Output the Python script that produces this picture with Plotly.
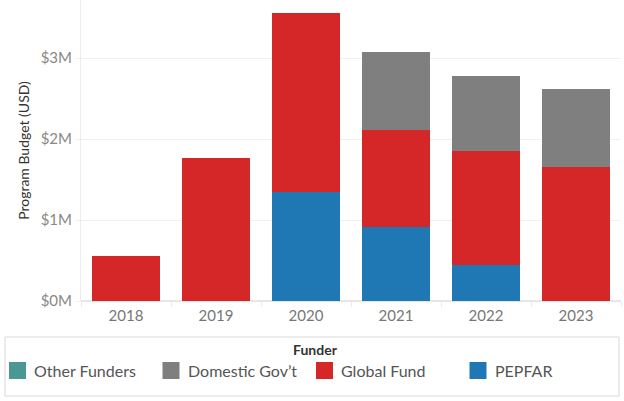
import plotly.graph_objects as go

years = ["2018", "2019", "2020", "2021", "2022", "2023"]
pepfar = [0, 0, 1.35e6, 0.91e6, 0.44e6, 0]
global_fund = [0.55e6, 1.765e6, 2.205e6, 1.2e6, 1.41e6, 1.655e6]
domestic = [0, 0, 0, 0.965e6, 0.93e6, 0.96e6]
other = [0, 0, 0, 0, 0, 0]

tick_vals = [0, 1e6, 2e6, 3e6]
tick_text = ["$0M", "$1M", "$2M", "$3M"]

legend_title = "Funder"

FONT = "Lato"

series = [
    ("PEPFAR", pepfar, "#1f77b4"),
    ("Global Fund", global_fund, "#d62728"),
    ("Domestic Gov\u2019t", domestic, "#7f7f7f"),
    ("Other Funders", other, "#499894"),
]

fig = go.Figure()
for name, vals, col in series:
    fig.add_trace(go.Bar(x=years, y=vals, name=name, showlegend=False,
                         marker=dict(color=col, line=dict(width=0))))

W, H = 624, 401
L, R, T, B = 81, 3, 0, 100
pw, ph = W - L - R, H - T - B

def px_x(x):
    return (x - L) / pw

def px_y(y):
    return (H - B - y) / ph

# legend box + entries (legend order is reversed stacking order)
shapes = [dict(type="rect", xref="paper", yref="paper",
               x0=px_x(5), x1=px_x(619), y0=px_y(396), y1=px_y(337),
               line=dict(color="#d9d9d9", width=1), layer="below")]
annotations = [dict(text=legend_title, xref="paper", yref="paper",
                    x=px_x(315), y=px_y(349), xanchor="center", yanchor="middle",
                    showarrow=False,
                    font=dict(family=FONT, size=14, color="#333333", weight=700))]
for i, (name, _, col) in enumerate(reversed(series)):
    sx = 9 + 153.5 * i
    shapes.append(dict(type="rect", xref="paper", yref="paper",
                       x0=px_x(sx), x1=px_x(sx + 17),
                       y0=px_y(379), y1=px_y(362),
                       fillcolor=col, line=dict(width=0)))
    annotations.append(dict(text=name, xref="paper", yref="paper",
                            x=px_x(sx + 23), y=px_y(370.5),
                            xanchor="left", yanchor="middle", showarrow=False,
                            font=dict(family=FONT, size=16, color="#555555")))

fig.update_layout(
    width=W, height=H,
    margin=dict(l=L, r=R, t=T, b=B, autoexpand=False),
    barmode="stack", bargap=0.245,
    plot_bgcolor="white", paper_bgcolor="white",
    font=dict(family=FONT, color="#555555"),
    showlegend=False,
    xaxis=dict(
        type="category",
        tickfont=dict(size=15, color="#777777"),
        ticks="outside", tickson="boundaries", ticklen=5,
        tickcolor="#ececec", showline=False, showgrid=False,
        ticklabelstandoff=4,
    ),
    yaxis=dict(
        range=[0, 3.716e6], tickvals=tick_vals, ticktext=tick_text,
        tickfont=dict(size=15, color="#888888"),
        gridcolor="#f0f0f0", zeroline=True, zerolinecolor="#e6e6e6",
        showline=True, linecolor="#ececec",
        ticks="outside", ticklen=5, tickcolor="#f0f0f0",
        title=dict(text="Program Budget (USD)",
                   font=dict(size=14, color="#333333"), standoff=7),
    ),
    shapes=shapes,
    annotations=annotations,
)

fig.write_html("out.html", config={"displayModeBar": False},
               post_script="document.body.style.margin='0px';document.body.style.padding='0px';")
